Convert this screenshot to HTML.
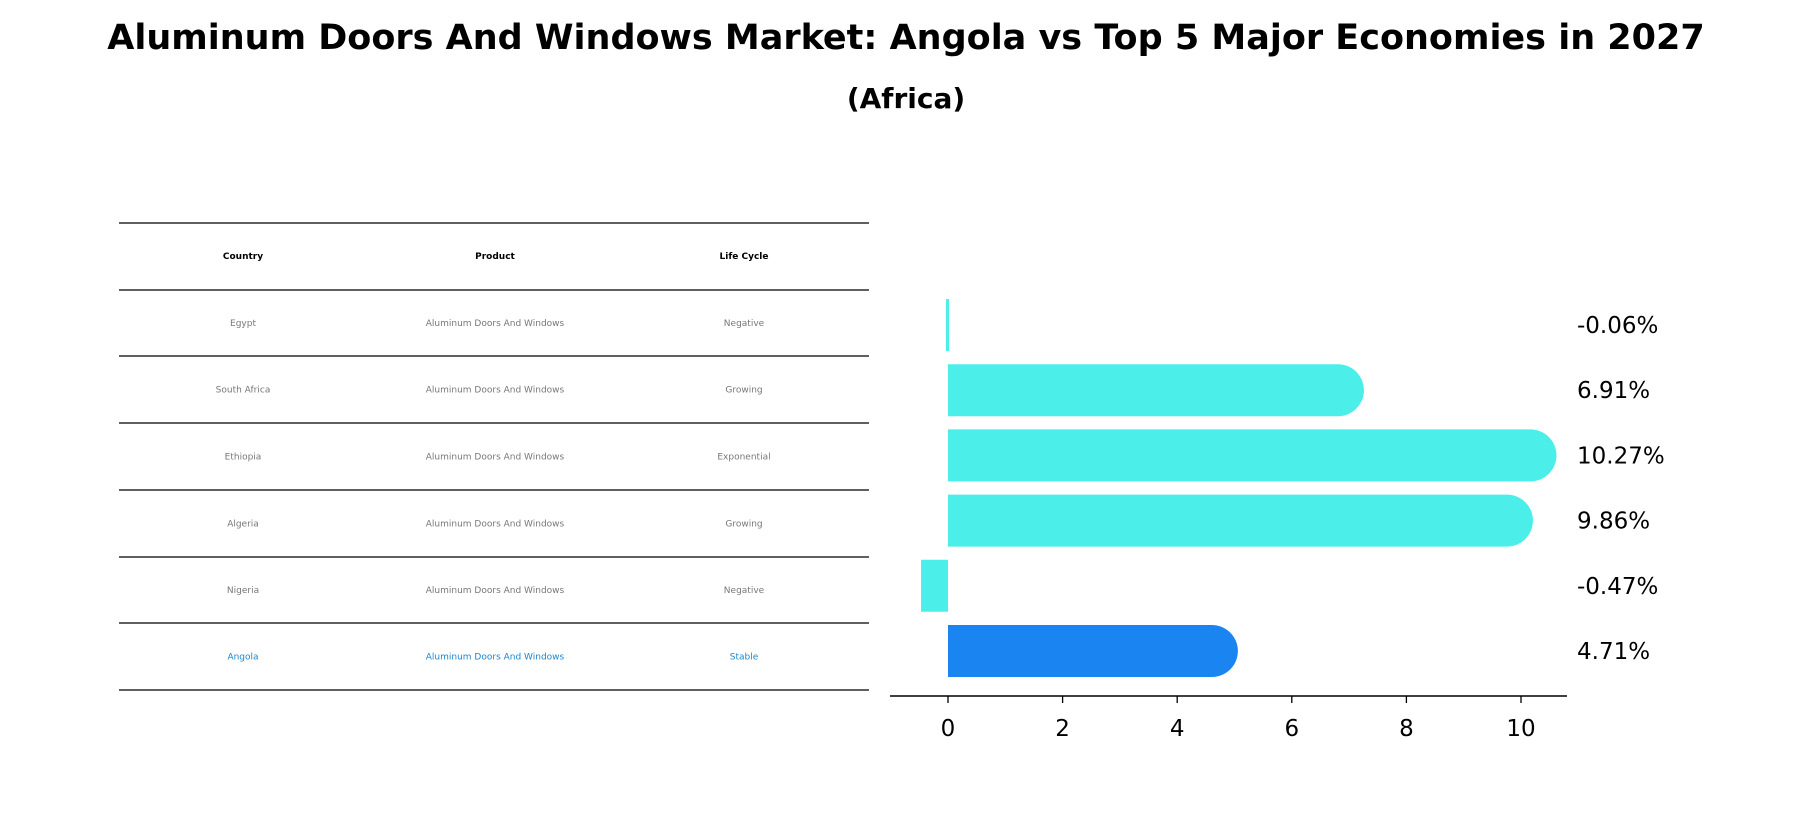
<!DOCTYPE html>
<html><head><meta charset="utf-8"><style>
body{margin:0;background:#fff;font-family:"Liberation Sans","DejaVu Sans",sans-serif}
svg{display:block}
</style></head><body>
<svg width="1812" height="823" xmlns="http://www.w3.org/2000/svg">
<text x="906" y="49" text-anchor="middle" font-size="35" font-weight="bold" font-family="DejaVu Sans, sans-serif">Aluminum Doors And Windows Market: Angola vs Top 5 Major Economies in 2027</text>
<text x="906" y="108" text-anchor="middle" font-size="28" font-weight="bold" font-family="DejaVu Sans, sans-serif">(Africa)</text>
<g id="table"></g>
<g id="bars"></g>
</svg>
<script>
const countries=["Egypt","South Africa","Ethiopia","Algeria","Nigeria","Angola"];
const products=["Aluminum Doors And Windows","Aluminum Doors And Windows","Aluminum Doors And Windows","Aluminum Doors And Windows","Aluminum Doors And Windows","Aluminum Doors And Windows"];
const lifecycles=["Negative","Growing","Exponential","Growing","Negative","Stable"];
const values=[-0.06,6.91,10.27,9.86,-0.47,4.71];
const valueLabels=["-0.06%","6.91%","10.27%","9.86%","-0.47%","4.71%"];
const xTicks=[0,2,4,6,8,10];
const NS="http://www.w3.org/2000/svg";
function mk(tag,attrs,parent){const e=document.createElementNS(NS,tag);for(const k in attrs)e.setAttribute(k,attrs[k]);parent.appendChild(e);return e;}
// table
const T=document.getElementById('table');
const lineY=[223,290,356,423,490,557,623,690];
const colX=[243,495,744];
lineY.forEach(y=>{const l=mk('line',{x1:119,x2:869,y1:y,y2:y,stroke:'#000','stroke-width':1.2},T);

});
["Country","Product","Life Cycle"].forEach((h,i)=>{const t=mk('text',{x:colX[i],y:259,'text-anchor':'middle','font-size':9,'font-weight':'bold','font-family':'DejaVu Sans, sans-serif'},T);t.textContent=h;

});
countries.forEach((c,r)=>{const y=(lineY[r+1]+lineY[r+2])/2+3;const col=r===5?'#1a85d0':'#777';
[c,products[r],lifecycles[r]].forEach((v,i)=>{const t=mk('text',{x:colX[i],y:y,'text-anchor':'middle','font-size':9,fill:col,'font-family':'DejaVu Sans, sans-serif'},T);t.textContent=v;

});});
// bars
const B=document.getElementById('bars');
const x0=948,unit=57.3;const X=v=>x0+v*unit;
const Y=i=>325+i*65.2;const bh=52;
values.forEach((v,i)=>{const col=i===5?'#1a85f0':'#4beee9';const y=Y(i)-bh/2;let p;
if(v>0){const xe=X(v)-6;p=`M${x0},${y}H${xe}A26,26 0 0 1 ${xe},${y+bh}H${x0}Z`;}
else{p=`M${X(v)},${y}H${x0}V${y+bh}H${X(v)}Z`;if(Math.abs(v)<0.1)p=`M${x0-2},${y}H${x0+1}V${y+bh}H${x0-2}Z`;}
const b=mk('path',{d:p,fill:col},B);


const t=mk('text',{x:1577,y:Y(i)+8,'font-size':23,'font-family':'DejaVu Sans, sans-serif'},B);t.textContent=valueLabels[i];

});
const ax=mk('line',{x1:890,x2:1567,y1:696,y2:696,stroke:'#000','stroke-width':1.5},B);


xTicks.forEach(v=>{const l=mk('line',{x1:X(v),x2:X(v),y1:696,y2:703,stroke:'#000','stroke-width':1.3},B);


const t=mk('text',{x:X(v),y:736,'text-anchor':'middle','font-size':23,'font-family':'DejaVu Sans, sans-serif'},B);t.textContent=v;

});
</script>
</body></html>
